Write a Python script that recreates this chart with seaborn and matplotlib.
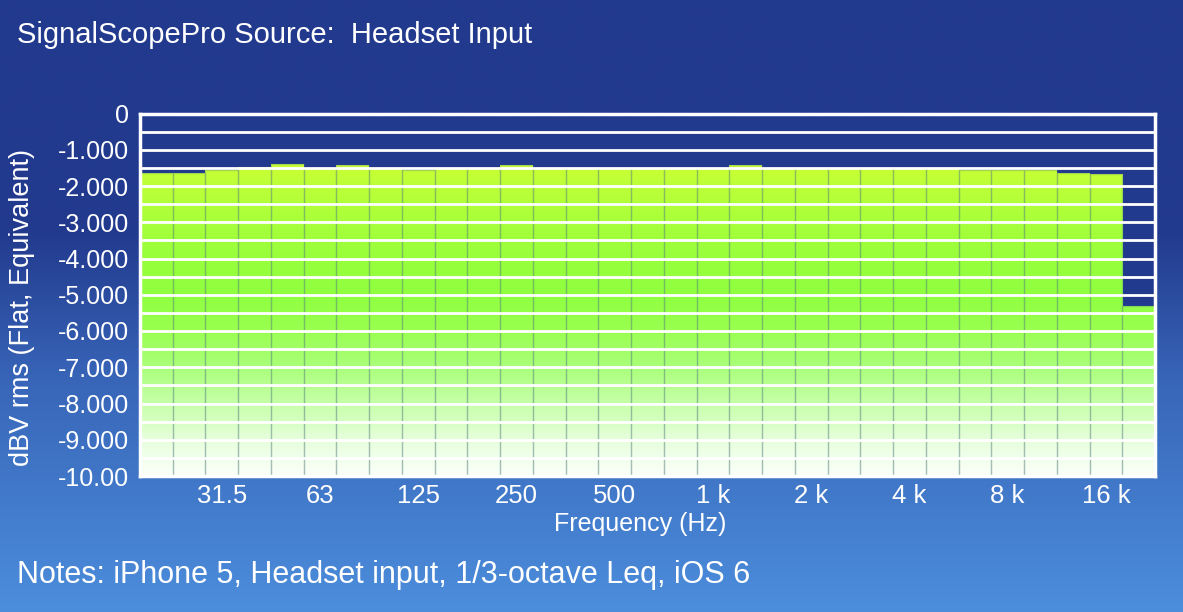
import numpy as np
import pandas as pd
import matplotlib
matplotlib.use("Agg")
import matplotlib.pyplot as plt
import seaborn as sns
from matplotlib.colors import LinearSegmentedColormap
from matplotlib.ticker import MultipleLocator

# ---- data ----
bands = ["20", "25", "31.5", "40", "50", "63", "80", "100", "125", "160", "200",
         "250", "315", "400", "500", "630", "800", "1 k", "1.25 k", "1.6 k", "2 k",
         "2.5 k", "3.15 k", "4 k", "5 k", "6.3 k", "8 k", "10 k", "12.5 k", "16 k", "20 k"]
levels = [-1.64, -1.64, -1.55, -1.48, -1.40, -1.49, -1.42, -1.50, -1.55, -1.50, -1.50,
          -1.43, -1.50, -1.51, -1.51, -1.51, -1.51, -1.50, -1.43, -1.50, -1.50,
          -1.50, -1.50, -1.50, -1.50, -1.55, -1.55, -1.55, -1.64, -1.68, -5.31]
tick_bands = ["31.5", "63", "125", "250", "500", "1 k", "2 k", "4 k", "8 k", "16 k"]
y_ticks = [0, -1, -2, -3, -4, -5, -6, -7, -8, -9, -10]
y_tick_labels = ["0", "-1.000", "-2.000", "-3.000", "-4.000", "-5.000", "-6.000",
                 "-7.000", "-8.000", "-9.000", "-10.00"]
title = "SignalScopePro Source:  Headset Input"
notes = "Notes: iPhone 5, Headset input, 1/3-octave Leq, iOS 6"
x_label = "Frequency (Hz)"
y_label = "dBV rms (Flat, Equivalent)"

df = pd.DataFrame({"band": bands, "level": levels})

sns.set_theme(style="white")
plt.rcParams['font.family'] = ['Liberation Sans', 'DejaVu Sans']

W, H = 1183, 612
fig = plt.figure(figsize=(W / 100, H / 100), dpi=100)

# background gradient
bg = fig.add_axes([0, 0, 1, 1], zorder=-10)
bg_cmap = LinearSegmentedColormap.from_list(
    "bg", [(0.0, "#223a8e"), (0.38, "#223a8e"), (0.62, "#3865b8"), (1.0, "#4c8edc")])
bg.imshow(np.linspace(0, 1, 256).reshape(-1, 1), aspect="auto", cmap=bg_cmap,
          extent=[0, 1, 1, 0])
bg.set_axis_off()

ax = fig.add_axes([140 / W, 1 - 476 / H, (1155 - 140) / W, (476 - 113.5) / H])
ax.set_facecolor("#223a8e")

sns.barplot(data=df, x="band", y="level", order=bands, color="#99ff44",
            width=1.0, ax=ax, saturation=1)

bar_cmap = LinearSegmentedColormap.from_list(
    "bars", [(0.0, "#fbfffa"), (0.1, "#e6ffdc"), (0.2, "#c6ffa8"), (0.3, "#aaff7a"),
             (0.4, "#99ff50"), (0.5, "#90ff40"), (0.6, "#98ff3c"), (0.7, "#a8ff3a"),
             (0.8, "#bcff38"), (0.85, "#c8ff34"), (1.0, "#dcff30")])
grad = np.linspace(0, 1, 256).reshape(-1, 1)

for p in list(ax.patches):
    h = p.get_height()
    p.set_y(-10)
    p.set_height(h + 10)
    p.set_facecolor("none")
    p.set_edgecolor((0.35, 0.50, 0.50, 0.30))
    p.set_linewidth(1.0)
    p.set_zorder(1)
    x0 = p.get_x()
    im = ax.imshow(grad, extent=[x0, x0 + p.get_width(), -10, 0], origin="lower",
                   cmap=bar_cmap, aspect="auto", zorder=0.5, interpolation="bilinear")
    im.set_clip_path(p)

ax.set_xlim(-0.5, len(bands) - 0.5)
ax.set_ylim(-10, 0)
ax.set_xticks([bands.index(b) for b in tick_bands], tick_bands)
ax.set_yticks(y_ticks, y_tick_labels)
ax.yaxis.set_minor_locator(MultipleLocator(0.5))
ax.set_axisbelow(False)
ax.grid(which="both", axis="y", color="white", lw=2.0)
ax.grid(False, axis="x")
ax.tick_params(axis="both", which="both", length=0, colors="white")
ax.tick_params(axis="y", labelsize=18, pad=8)
ax.tick_params(axis="x", labelsize=18.5, pad=6)
for s in ax.spines.values():
    s.set_color("white")
    s.set_linewidth(2.5)
    s.set_zorder(5)
ax.set_xlabel(x_label, color="white", fontsize=18, va="center")
ax.set_ylabel(y_label, color="white", fontsize=19.5, va="center")
ax.xaxis.set_label_coords((640 - 140) / 1015, -(524 - 476) / 362.5)
ax.yaxis.set_label_coords((22 - 140) / 1015, 0.5 - (307 - 294.75) / 362.5)

fig.text(17 / W, 1 - 35 / H, title, color="white", fontsize=21, va="center", ha="left")
fig.text(17 / W, 1 - 575 / H, notes, color="white", fontsize=22, va="center", ha="left")

fig.savefig("out.png", dpi=100)
